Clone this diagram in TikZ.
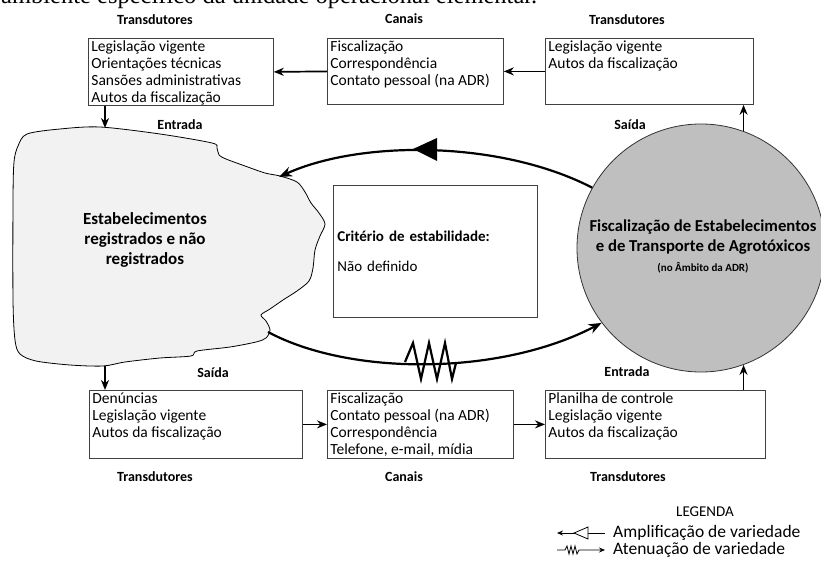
\documentclass[tikz,border=0pt]{standalone}
\usepackage{fontspec}
\setmainfont{Carlito}
\newfontfamily\bodyserif{Liberation Serif}
\usetikzlibrary{arrows.meta}

% text block of fixed size, lines set from the top
\newcommand{\celltext}[3]{\parbox[c][#2][t]{#1}{#3}}

\begin{document}
\begin{tikzpicture}[
  x=1pt, y=-1pt,
  txtbox/.style={draw=black!75, line width=0.8pt, inner xsep=3pt, inner ysep=2pt,
    anchor=north west, align=left, font=\fontsize{15.5}{17}\selectfont},
  lbl/.style={font=\bfseries\fontsize{14}{16}\selectfont, inner sep=0pt},
  flow/.style={line width=1.7pt, -{Stealth[length=10pt,width=8pt]}},
  loopline/.style={line width=2.2pt, -{Stealth[length=13pt,width=10pt]}},
  legtext/.style={font=\fontsize{17.5}{18}\selectfont, inner sep=0pt},
]
\useasboundingbox (0,0) rectangle (821,561);
\clip (0,0) rectangle (821,561);

% line of body text running above the figure
\node[anchor=base west, inner sep=0pt, font=\bodyserif\fontsize{24.5}{24.5}\selectfont]
  (bodyline) at (1,4) {ambiente específico da unidade operacional elementar.};

% ---- environment (irregular shape) ----
\draw[line width=0.8pt, fill=black!5] plot[smooth cycle, tension=0.5] coordinates {
  (27,134) (60,129) (100,127) (160,134) (212,143) (217,148) (219,155) (226,159)
  (245,166) (265,173) (280,176) (297,182) (305,192) (311,203) (319,213) (325,224)
  (320,236) (315,250) (313,268) (309,281) (297,291) (283,300) (270,309) (261,315)
  (266,321) (270,330) (266,338) (256,342) (230,347) (197,351) (191,356) (160,358)
  (125,362) (103,366) (70,365) (36,361) (20,354) (15,340) (13,300) (13,200)
  (14,162) (18,146)};
\node[font=\bfseries\fontsize{17}{20}\selectfont, align=center] (envtext) at (145,240)
  {Estabelecimentos\\registrados e não\\registrados};
\coordinate (envN) at (105,128);
\coordinate (envS) at (105,366);
\coordinate (envUp) at (279,177);
\coordinate (envLow) at (268,332);

% ---- operational unit ----
\node[circle, draw=black!80, line width=0.8pt, fill=black!25, minimum size=248pt, inner sep=0pt]
  (unit) at (701,248) {};
\node[font=\bfseries\fontsize{16.7}{20}\selectfont, align=center] (unittext) at (703,246)
  {Fiscalização de Estabelecimentos\\e de Transporte de Agrotóxicos\\
   {\fontsize{11}{13}\selectfont (no Âmbito da ADR)}};

% ---- stability criterion ----
\node[draw=black!75, line width=0.8pt, anchor=north west, minimum width=204pt,
  minimum height=132pt, text width=196pt, align=left, inner xsep=4pt,
  font=\fontsize{15}{17}\selectfont] (crit) at (333,185)
  {\textbf{Critério de estabilidade:}\\[13pt]Não definido};

% ---- upper row ----
\node[txtbox] (b1) at (88,38) {\celltext{179pt}{63pt}{Legislação vigente\\Orientações técnicas\\Sansões administrativas\\Autos da fiscalização}};
\node[txtbox] (b2) at (327,38) {\celltext{170pt}{62pt}{Fiscalização\\Correspondência\\Contato pessoal (na ADR)}};
\node[txtbox] (b3) at (545,38) {\celltext{202pt}{62pt}{Legislação vigente\\Autos da fiscalização}};

% ---- lower row ----
\node[txtbox] (b4) at (89,390) {\celltext{207pt}{64pt}{Denúncias\\Legislação vigente\\Autos da fiscalização}};
\node[txtbox] (b5) at (327,390) {\celltext{180pt}{64pt}{Fiscalização\\Contato pessoal (na ADR)\\Correspondência\\Telefone, e-mail, mídia}};
\node[txtbox] (b6) at (545,390) {\celltext{214pt}{64pt}{Planilha de controle\\Legislação vigente\\Autos da fiscalização}};

% ---- labels ----
\node[lbl] (t1) at (155,20) {Transdutores};
\node[lbl] (t2) at (404,19) {Canais};
\node[lbl] (t3) at (627,20) {Transdutores};
\node[lbl] (inL) at (180,125) {Entrada};
\node[lbl] (outR) at (630,125) {Saída};
\node[lbl] (outL) at (213,373) {Saída};
\node[lbl] (inR) at (627,372) {Entrada};
\node[lbl] (t4) at (155,477) {Transdutores};
\node[lbl] (t5) at (404,477) {Canais};
\node[lbl] (t6) at (628,477) {Transdutores};

% ---- connectors between boxes ----
\draw[flow] (b2.west) -- (b1.east);
\draw[flow] (b3.west) -- (b2.east);
\draw[flow] (b1.south -| envN) -- (envN);
\draw[flow] (unit.70) -- (unit.70 |- b3.south);
\draw[flow] (envS) -- (b4.north -| envS);
\draw[flow] (b4.east) -- (b5.west);
\draw[flow] (b5.east) -- (b6.west);
\draw[flow] (b6.north -| unit.-70) -- (unit.-70);

% ---- regulation loop ----
\draw[loopline] (unit.151) .. controls (500,140) and (360,140) .. (envUp);
\fill (413,149) -- (437,138) -- (437,161) -- cycle;
\draw[loopline] (envLow) .. controls (350,376) and (500,376) .. (unit.217);
\draw[line width=2.2pt, line join=miter] (405,362) -- (413,343) -- (421,379) -- (429,343)
  -- (437,379) -- (445,343) -- (452,379) -- (456,363);

% ---- legend ----
\node[font=\fontsize{15}{17}\selectfont, inner sep=0pt] (legtitle) at (705,512) {LEGENDA};
\node[legtext, anchor=west] (legamp) at (613,533) {Amplificação de variedade};
\node[legtext, anchor=west] (legatt) at (613,550) {Atenuação de variedade};
\draw[line width=0.8pt, -{Stealth[length=6pt,width=5pt]}] (605,533) -- (557,533);
\draw[line width=0.8pt, fill=white] (574,533) -- (588,527) -- (588,539) -- cycle;
\draw[line width=0.8pt, -{Stealth[length=6pt,width=5pt]}] (557,550) -- (565,550)
  -- (567,546) -- (569,554) -- (571,546) -- (573,554) -- (575,546) -- (577,554)
  -- (579,550) -- (605,550);
\end{tikzpicture}
\end{document}
